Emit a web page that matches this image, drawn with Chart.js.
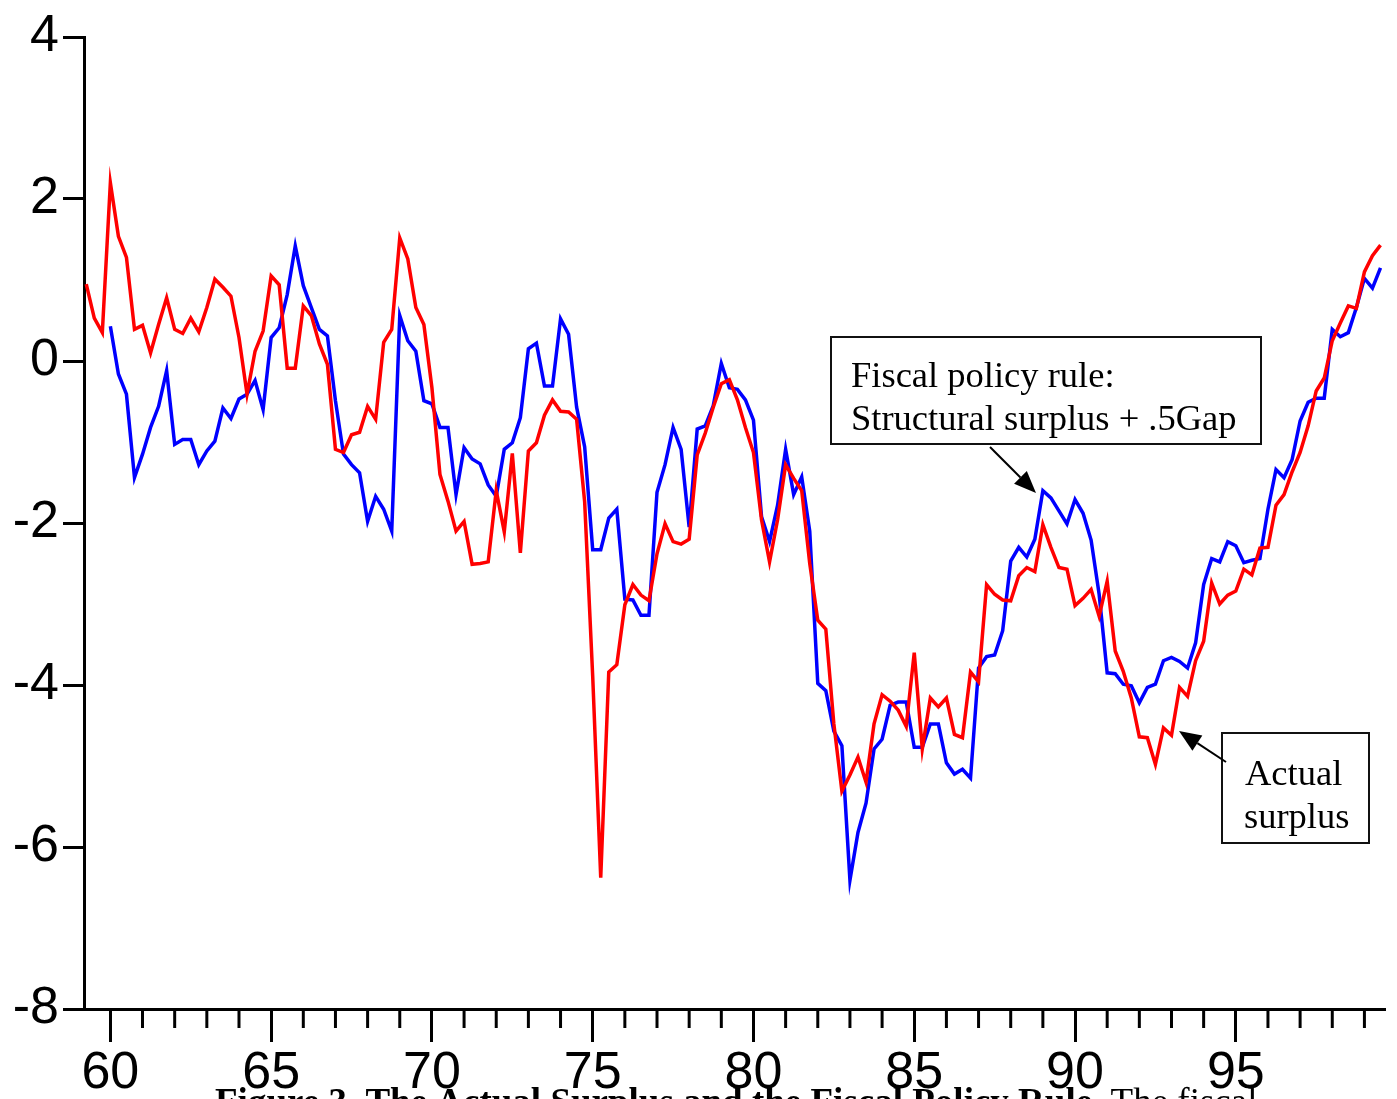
<!DOCTYPE html>
<html><head><meta charset="utf-8">
<script src="https://cdn.jsdelivr.net/npm/chart.js@4.4.0/dist/chart.umd.min.js"></script>
<style>html,body{margin:0;padding:0;background:#fff;overflow:hidden}#wrap{width:1397px;height:1099px;position:relative}</style>
</head><body><div id="wrap"><canvas id="c"></canvas></div>
<script>
// Quarterly data, x in years (19xx), first quarter of each series
const actualStart = 59.25;
const ruleStart = 60.0;
const quarterStep = 0.25;

// Actual surplus (red), 1959Q2 .. 1999Q3
const actualSurplus = [
  0.95, 0.53, 0.35,
  2.20, 1.54, 1.28, 0.39,  0.44, 0.10, 0.45, 0.78,  0.39, 0.34, 0.53, 0.36,
  0.66, 1.01, 0.91, 0.80,  0.29, -0.41, 0.12, 0.37,  1.05, 0.94, -0.09, -0.09,
  0.68, 0.56, 0.21, -0.04,  -1.09, -1.13, -0.91, -0.88,  -0.56, -0.72, 0.23, 0.39,
  1.52, 1.26, 0.66, 0.45,  -0.33, -1.40, -1.73, -2.10,  -1.98, -2.51, -2.50, -2.48,
  -1.60, -2.11, -1.14, -2.37,  -1.11, -1.01, -0.67, -0.48,  -0.62, -0.63, -0.72, -1.74,
  -3.89, -6.38, -3.84, -3.75,  -3.01, -2.76, -2.89, -2.96,  -2.38, -2.01, -2.23, -2.26,
  -2.20, -1.16, -0.89, -0.57,  -0.28, -0.23, -0.48, -0.82,  -1.13, -1.96, -2.48, -1.96,
  -1.28, -1.45, -1.60, -2.50,  -3.20, -3.31, -4.48, -5.31,  -5.11, -4.89, -5.20, -4.48,
  -4.12, -4.20, -4.31, -4.51,  -3.60, -4.79, -4.16, -4.27,  -4.16, -4.61, -4.65, -3.84,
  -3.96, -2.76, -2.88, -2.95,  -2.96, -2.65, -2.55, -2.60,  -2.02, -2.30, -2.55, -2.57,
  -3.02, -2.93, -2.82, -3.15,  -2.72, -3.58, -3.83, -4.16,  -4.64, -4.65, -4.98, -4.53,
  -4.62, -4.03, -4.14, -3.70,  -3.46, -2.74, -3.00, -2.89,  -2.84, -2.57, -2.64, -2.31,
  -2.30, -1.78, -1.65, -1.37,  -1.13, -0.80, -0.37, -0.21,  0.25, 0.47, 0.68, 0.65,
  1.10, 1.30, 1.43
];

// Fiscal policy rule: structural surplus + .5Gap (blue), 1960Q1 .. 1999Q3
const fiscalRule = [
  0.43, -0.16, -0.41, -1.44,  -1.15, -0.82, -0.56, -0.12,  -1.03, -0.97, -0.97, -1.28,
  -1.11, -0.99, -0.58, -0.71,  -0.47, -0.41, -0.24, -0.60,  0.29, 0.41, 0.82, 1.42,
  0.93, 0.66, 0.39, 0.31,  -0.49, -1.15, -1.28, -1.38,  -1.98, -1.67, -1.83, -2.10,
  0.56, 0.25, 0.12, -0.49,  -0.53, -0.82, -0.82, -1.65,  -1.07, -1.21, -1.27, -1.53,
  -1.67, -1.09, -1.01, -0.70,  0.15, 0.22, -0.31, -0.31,  0.52, 0.33, -0.57, -1.06,
  -2.33, -2.33, -1.94, -1.83,  -2.94, -2.95, -3.14, -3.14,  -1.62, -1.28, -0.82, -1.09,
  -2.05, -0.84, -0.80, -0.55,  -0.03, -0.33, -0.35, -0.48,  -0.73, -1.92, -2.23, -1.78,
  -1.09, -1.65, -1.43, -2.10,  -3.98, -4.07, -4.57, -4.75,  -6.41, -5.82, -5.46, -4.79,
  -4.67, -4.25, -4.21, -4.21,  -4.77, -4.77, -4.48, -4.48,  -4.96, -5.10, -5.04, -5.15,
  -3.79, -3.65, -3.63, -3.33,  -2.47, -2.30, -2.42, -2.20,  -1.60, -1.69, -1.85, -2.01,
  -1.71, -1.88, -2.21, -2.88,  -3.85, -3.86, -3.99, -4.01,  -4.22, -4.03, -3.99, -3.70,
  -3.66, -3.71, -3.79, -3.48,  -2.76, -2.44, -2.48, -2.23,  -2.28, -2.49, -2.46, -2.44,
  -1.83, -1.34, -1.44, -1.22,  -0.74, -0.51, -0.46, -0.46,  0.39, 0.30, 0.35, 0.66,
  1.02, 0.90, 1.15
];

const xMin = 59.18, xMax = 99.64;
const yMin = -8, yMax = 4, yStep = 2;
const majorEvery = 5;

const ruleLabel = ["Fiscal policy rule:", "Structural surplus + .5Gap"];
const actualLabel = ["Actual", "surplus"];
const captionBold = "Figure 3. The Actual Surplus and the Fiscal Policy Rule.";
const captionRest = " The fiscal";

function toPoints(start, arr) {
  return arr.map((v, i) => ({x: start + i * quarterStep, y: v}));
}

function arrow(ctx, x1, y1, x2, y2) {
  const ang = Math.atan2(y2 - y1, x2 - x1);
  const L = 22, W = 9;
  const bx = x2 - L * Math.cos(ang), by = y2 - L * Math.sin(ang);
  ctx.beginPath(); ctx.moveTo(x1, y1); ctx.lineTo(bx, by); ctx.stroke();
  ctx.beginPath();
  ctx.moveTo(x2, y2);
  ctx.lineTo(bx + W * Math.sin(ang), by - W * Math.cos(ang));
  ctx.lineTo(bx - W * Math.sin(ang), by + W * Math.cos(ang));
  ctx.closePath(); ctx.fill();
}

const extras = {
  id: 'extras',
  afterDraw(chart) {
    const ctx = chart.ctx, xs = chart.scales.x;
    const bottom = chart.chartArea.bottom;
    ctx.save();
    // minor yearly ticks
    ctx.strokeStyle = '#000'; ctx.lineWidth = 3;
    for (let yr = Math.ceil(xMin); yr <= Math.floor(xMax); yr++) {
      if (yr % majorEvery === 0) continue;
      const px = xs.getPixelForValue(yr);
      ctx.beginPath(); ctx.moveTo(px, bottom); ctx.lineTo(px, bottom + 19); ctx.stroke();
    }
    // annotation boxes
    ctx.fillStyle = '#fff'; ctx.strokeStyle = '#111'; ctx.lineWidth = 2;
    ctx.fillRect(831, 337, 430, 107); ctx.strokeRect(831, 337, 430, 107);
    ctx.fillRect(1222, 733, 147, 110); ctx.strokeRect(1222, 733, 147, 110);
    ctx.fillStyle = '#000';
    ctx.font = "36.5px 'Liberation Serif'";
    ctx.textBaseline = 'alphabetic'; ctx.textAlign = 'left';
    ctx.fillText(ruleLabel[0], 851, 387);
    ctx.fillText(ruleLabel[1], 851, 430);
    ctx.fillText(actualLabel[0], 1245, 785);
    ctx.fillText(actualLabel[1], 1244, 828);
    // arrows
    ctx.strokeStyle = '#000'; ctx.lineWidth = 2;
    arrow(ctx, 990, 447, 1036, 493);
    arrow(ctx, 1226, 762, 1179, 731);
    // caption (cut off at the bottom)
    ctx.font = "bold 37px 'Liberation Serif'";
    ctx.fillText(captionBold, 215, 1114);
    const w = ctx.measureText(captionBold).width;
    ctx.font = "37px 'Liberation Serif'";
    ctx.fillText(captionRest, 215 + w, 1114);
    ctx.restore();
  }
};

new Chart(document.getElementById('c'), {
  type: 'line',
  data: {
    datasets: [
      {label: 'Actual surplus', data: toPoints(actualStart, actualSurplus),
       borderColor: '#ff0000', borderWidth: 3.5, pointRadius: 0, tension: 0, fill: false},
      {label: 'Fiscal policy rule', data: toPoints(ruleStart, fiscalRule),
       borderColor: '#0000ff', borderWidth: 3.5, pointRadius: 0, tension: 0, fill: false}
    ]
  },
  options: {
    responsive: true, maintainAspectRatio: false, animation: false,
    layout: {padding: {top: 37, right: 12, left: 0, bottom: 0}},
    plugins: {legend: {display: false}, tooltip: {enabled: false}},
    scales: {
      x: {
        type: 'linear', min: xMin, max: xMax,
        afterFit(s) { s.height = 90; },
        border: {display: true, color: '#000', width: 3},
        grid: {display: true, drawOnChartArea: false, drawTicks: true, tickLength: 33, tickWidth: 3,
               tickColor: c => (c.tick && c.tick.value % majorEvery === 0) ? '#000' : 'rgba(0,0,0,0)'},
        ticks: {stepSize: 1, includeBounds: false, autoSkip: false, maxRotation: 0, padding: 0,
                color: '#000', font: {family: "'Liberation Sans', Arial", size: 52},
                callback: v => (v % majorEvery === 0) ? String(v) : ''}
      },
      y: {
        min: yMin, max: yMax,
        afterFit(s) { s.width = 84; },
        border: {display: true, color: '#000', width: 3},
        grid: {display: true, drawOnChartArea: false, drawTicks: true, tickLength: 21, tickWidth: 3, tickColor: '#000'},
        ticks: {stepSize: yStep, padding: 4, color: '#000',
                font: {family: "'Liberation Sans', Arial", size: 52}}
      }
    }
  },
  plugins: [extras]
});
</script></body></html>
